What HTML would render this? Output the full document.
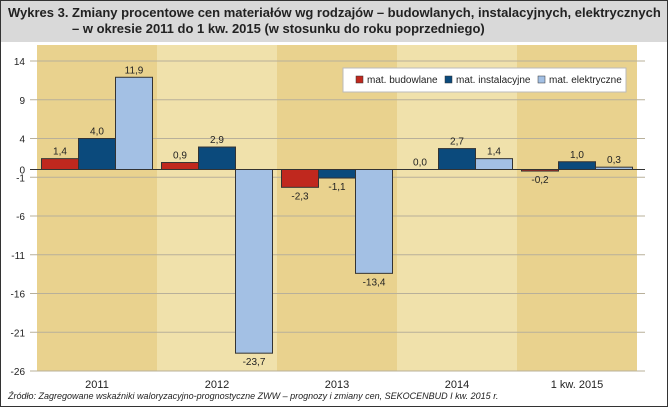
<!DOCTYPE html>
<html><head><meta charset="utf-8"><style>
body{margin:0;background:#fff}
svg{display:block;font-family:"Liberation Sans",Arial,sans-serif}
</style></head><body>
<svg width="668" height="407" viewBox="0 0 668 407">
<rect x="0.5" y="0.5" width="667" height="406" fill="#fff" stroke="#333"/>
<rect x="1" y="1" width="666" height="41" fill="#d9d9d9"/>
<text x="8" y="17" font-size="13" font-weight="bold" fill="#222">Wykres 3.</text>
<text x="72" y="17" font-size="13" font-weight="bold" fill="#222">Zmiany procentowe cen materiałów wg rodzajów – budowlanych, instalacyjnych, elektrycznych</text>
<text x="72" y="33" font-size="13" font-weight="bold" fill="#222">– w okresie 2011 do 1 kw. 2015 (w stosunku do roku poprzedniego)</text>
<g id="bands"></g>
<g id="grid"></g>
<g id="bars"></g>
<g id="labels"></g>
<g>
<rect x="343" y="68" width="283" height="24" fill="#fff" stroke="#bbb"/>
<rect x="356" y="76" width="7" height="7" fill="#c0281e" stroke="#333" stroke-width="0.5"/>
<text x="367" y="83" font-size="10" fill="#222">mat. budowlane</text>
<rect x="445" y="76" width="7" height="7" fill="#0b4a7c" stroke="#333" stroke-width="0.5"/>
<text x="456" y="83" font-size="10" fill="#222">mat. instalacyjne</text>
<rect x="538" y="76" width="7" height="7" fill="#a3c0e4" stroke="#333" stroke-width="0.5"/>
<text x="549" y="83" font-size="10" fill="#222">mat. elektryczne</text>
</g>
<text x="8" y="399" font-size="9" font-style="italic" fill="#222">Źródło:  Zagregowane wskaźniki waloryzacyjno-prognostyczne ZWW – prognozy i zmiany cen, SEKOCENBUD I kw. 2015 r.</text>
</svg>
<script>
const categories=["2011","2012","2013","2014","1 kw. 2015"];
const budowlane=[1.4,0.9,-2.3,0.0,-0.2];
const instalacyjne=[4.0,2.9,-1.1,2.7,1.0];
const elektryczne=[11.9,-23.7,-13.4,1.4,0.3];
const ticks=[14,9,4,0,-1,-6,-11,-16,-21,-26];
const NS="http://www.w3.org/2000/svg";
const x0=37,bandW=120,yTop=61,yBot=371,vMax=14,vMin=-26;
const y=v=>yTop+(vMax-v)*(yBot-yTop)/(vMax-vMin);
const fmt=v=>v.toFixed(1).replace('.',',');
function mk(tag,attrs,parent){const e=document.createElementNS(NS,tag);for(const k in attrs)e.setAttribute(k,attrs[k]);parent.appendChild(e);return e;}
const bands=document.getElementById('bands'),grid=document.getElementById('grid'),bars=document.getElementById('bars'),labels=document.getElementById('labels');
categories.forEach((c,i)=>{
 const r=mk('rect',{x:x0+i*bandW,y:45,width:bandW,height:yBot-45,fill:i%2?'#f0e1ab':'#e9d28e'},bands);
 
 
 const t=mk('text',{x:x0+i*bandW+bandW/2,y:388,'font-size':11,'text-anchor':'middle',fill:'#222'},labels);
 t.textContent=c;
 
 
});
ticks.forEach(v=>{
 const l=mk('line',{x1:30,x2:645,y1:y(v),y2:y(v),stroke:'#b8b09a','stroke-width':1},grid);
 
 
 const t=mk('text',{x:25,y:y(v)+4,'font-size':10,'text-anchor':'end',fill:'#222'},grid);
 t.textContent=v;
 
 
});
const series=[[budowlane,'#c0281e','budowlane'],[instalacyjne,'#0b4a7c','instalacyjne'],[elektryczne,'#a3c0e4','elektryczne']];
const bw=37;
categories.forEach((c,i)=>{
 const gx=x0+i*bandW+bandW/2-bw*1.5;
 series.forEach(([arr,col,nm],s)=>{
  const v=arr[i],bx=gx+s*bw;
  const top=Math.min(y(v),y(0)),h=Math.max(Math.abs(y(v)-y(0)),v===0?0:1.5);
  if(v!==0){
   const r=mk('rect',{x:bx,y:top,width:bw,height:h,fill:col,stroke:'#333','stroke-width':1},bars);
   
   
  }
  const ly=v>=0?y(v)-4:y(v)+12;
  const t=mk('text',{x:bx+bw/2,y:ly,'font-size':10,'text-anchor':'middle',fill:'#222'},labels);
  t.textContent=fmt(v);
  
  
 });
});
const z=mk('line',{x1:30,x2:645,y1:y(0),y2:y(0),stroke:'#333','stroke-width':1},labels);


</script>
</body></html>
